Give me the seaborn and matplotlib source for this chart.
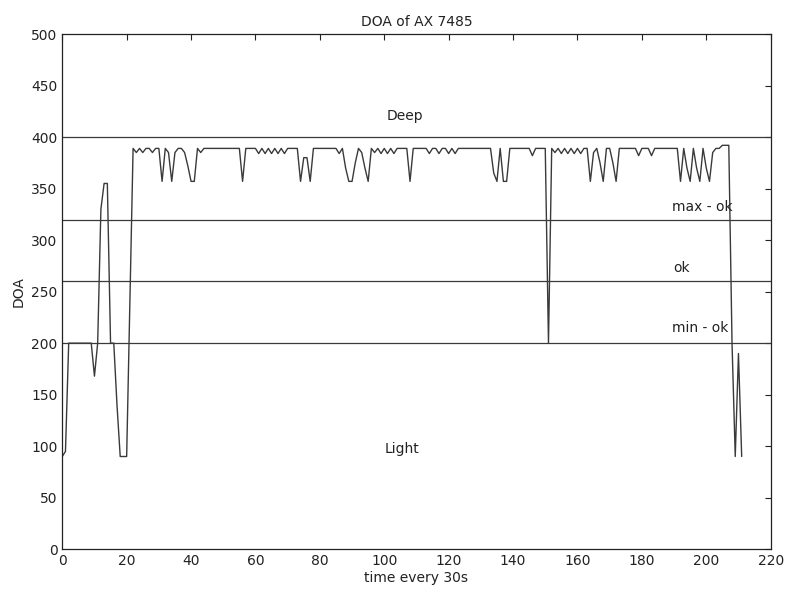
import matplotlib
matplotlib.use("Agg")
import matplotlib.pyplot as plt
import seaborn as sns
import pandas as pd
import numpy as np

# DOA readings, one per 30 s sample
doa = [
    90, 95, 200, 200, 200, 200, 200, 200, 200, 200,        # 0-9
    168, 200, 330, 355, 355, 200, 200, 140, 90, 90,        # 10-19
    90, 240, 389, 385, 389, 385, 389, 389, 385, 389,       # 20-29
    389, 357, 389, 385, 357, 385, 389, 389, 385, 372,      # 30-39
    357, 357, 389, 385, 389, 389, 389, 389, 389, 389,      # 40-49
    389, 389, 389, 389, 389, 389, 357, 389, 389, 389,      # 50-59
    389, 384, 389, 384, 389, 384, 389, 384, 389, 384,      # 60-69
    389, 389, 389, 389, 357, 380, 380, 357, 389, 389,      # 70-79
    389, 389, 389, 389, 389, 389, 384, 389, 370, 357,      # 80-89
    357, 375, 389, 385, 370, 357, 389, 385, 389, 384,      # 90-99
    389, 384, 389, 384, 389, 389, 389, 389, 357, 389,      # 100-109
    389, 389, 389, 389, 384, 389, 389, 384, 389, 389,      # 110-119
    384, 389, 384, 389, 389, 389, 389, 389, 389, 389,      # 120-129
    389, 389, 389, 389, 365, 357, 389, 357, 357, 389,      # 130-139
    389, 389, 389, 389, 389, 389, 382, 389, 389, 389,      # 140-149
    389, 200, 389, 385, 389, 384, 389, 384, 389, 384,      # 150-159
    389, 384, 389, 389, 357, 385, 389, 375, 357, 389,      # 160-169
    389, 375, 357, 389, 389, 389, 389, 389, 389, 382,      # 170-179
    389, 389, 389, 382, 389, 389, 389, 389, 389, 389,      # 180-189
    389, 389, 357, 389, 370, 357, 389, 370, 357, 389,      # 190-199
    370, 357, 385, 389, 389, 392, 392, 392, 200, 90,       # 200-209
    190, 90,                                               # 210-211
]
time = list(range(len(doa)))

# reference levels
levels = [400, 320, 260, 200]

df = pd.DataFrame({"time": time, "DOA": doa})

sns.set_style("white")
plt.rcParams["font.family"] = ["DejaVu Sans"]

fig = plt.figure(figsize=(7.88, 5.97), dpi=100)
ax = fig.add_axes([0.079, 0.080, 0.899, 0.863])

line_col = "#3a3a3a"
sns.lineplot(data=df, x="time", y="DOA", ax=ax, color=line_col, linewidth=1.0)

for lv in levels:
    ax.axhline(lv, color=line_col, linewidth=0.9)

# labels for the levels
ax.text(106.5, 420, "Deep", ha="center", va="center", fontsize=10, color="#222222")
ax.text(189.3, 332, "max - ok", ha="left", va="center", fontsize=10, color="#222222")
ax.text(189.8, 273, "ok", ha="left", va="center", fontsize=10, color="#222222")
ax.text(189.3, 215, "min - ok", ha="left", va="center", fontsize=10, color="#222222")
ax.text(105.5, 97, "Light", ha="center", va="center", fontsize=10, color="#222222")

ax.set_xlim(0, 220)
ax.set_ylim(0, 500)
ax.set_xticks(np.arange(0, 221, 20))
ax.set_yticks(np.arange(0, 501, 50))
ax.tick_params(direction="in", top=True, right=True, labelsize=10, colors="#222222", length=4)
for sp in ax.spines.values():
    sp.set_visible(True)
    sp.set_color("#222222")
    sp.set_linewidth(0.9)

ax.set_title("DOA of AX 7485", fontsize=10, color="#222222")
ax.set_xlabel("time every 30s", fontsize=10, color="#222222", labelpad=2)
ax.set_ylabel("DOA", fontsize=10, color="#222222", labelpad=4)

fig.savefig("out.png", dpi=100)
